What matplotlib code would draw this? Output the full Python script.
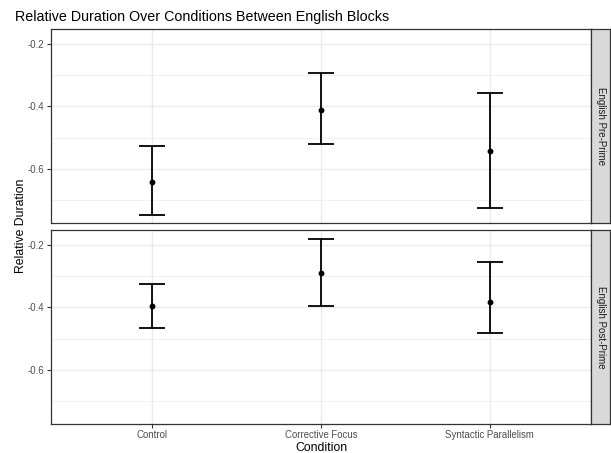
import matplotlib.pyplot as plt
import numpy as np

plt.rcParams["font.family"] = ["Liberation Sans", "DejaVu Sans"]
plt.rcParams["axes.unicode_minus"] = False

conditions = ["Control", "Corrective Focus", "Syntactic Parallelism"]
blocks = ["English Pre-Prime", "English Post-Prime"]

# mean, lower and upper bound per block
means = {
    "English Pre-Prime": [-0.641, -0.411, -0.541],
    "English Post-Prime": [-0.395, -0.289, -0.381],
}
lower = {
    "English Pre-Prime": [-0.747, -0.520, -0.724],
    "English Post-Prime": [-0.467, -0.395, -0.483],
}
upper = {
    "English Pre-Prime": [-0.525, -0.292, -0.356],
    "English Post-Prime": [-0.326, -0.180, -0.255],
}

W, H = 611, 453
fig = plt.figure(figsize=(W / 100, H / 100), dpi=100)

left, right = 51, 591
strip_w = 19
panels = [(29, 223), (230, 424)]
border = "#333333"

x = np.arange(1, len(conditions) + 1)
for i, (blk, (top, bot)) in enumerate(zip(blocks, panels)):
    ax = fig.add_axes([left / W, 1 - bot / H, (right - left) / W, (bot - top) / H])
    ax.set_xlim(0.4, 3.6)
    ax.set_ylim(-0.773, -0.152)
    ax.set_yticks([-0.6, -0.4, -0.2])
    ax.set_yticks([-0.7, -0.5, -0.3], minor=True)
    ax.set_xticks(x)
    ax.grid(True, which="major", color="#EBEBEB", lw=1.0)
    ax.grid(True, which="minor", axis="y", color="#EBEBEB", lw=0.5)
    ax.set_axisbelow(True)
    for sp in ax.spines.values():
        sp.set_color(border)
        sp.set_linewidth(0.9)
    ax.tick_params(axis="both", which="major", colors="#333333", labelcolor="#4D4D4D",
                   labelsize=6.9, length=3, width=0.8, pad=2)
    ax.tick_params(axis="x", which="major", pad=1.5)
    ax.tick_params(axis="both", which="minor", length=0)
    m = np.array(means[blk])
    lo = np.array(lower[blk])
    hi = np.array(upper[blk])
    ax.errorbar(x, m, yerr=[m - lo, hi - m], fmt="o", color="black", ms=3.2,
                ecolor="black", elinewidth=1.3, capsize=9.4, capthick=1.3)
    if i == 0:
        ax.set_xticklabels([])
        ax.tick_params(axis="x", length=0)
    else:
        ax.set_xticklabels(conditions)
        ax.set_xlabel("Condition", fontsize=8.8, labelpad=1)

    sax = fig.add_axes([right / W, 1 - bot / H, strip_w / W, (bot - top) / H])
    sax.set_facecolor("#D9D9D9")
    sax.set_xticks([])
    sax.set_yticks([])
    for sp in sax.spines.values():
        sp.set_color(border)
        sp.set_linewidth(0.9)
    sax.text(0.5, 0.5, blk, rotation=-90, ha="center", va="center",
             fontsize=7, color="#1A1A1A", transform=sax.transAxes)

fig.text(15 / W, 1 - 17 / H, "Relative Duration Over Conditions Between English Blocks",
         fontsize=10.3, ha="left", va="center")
fig.text(21 / W, 1 - 226 / H, "Relative Duration", rotation=90, fontsize=8.8,
         ha="center", va="center")

fig.savefig("out.png", dpi=100)
